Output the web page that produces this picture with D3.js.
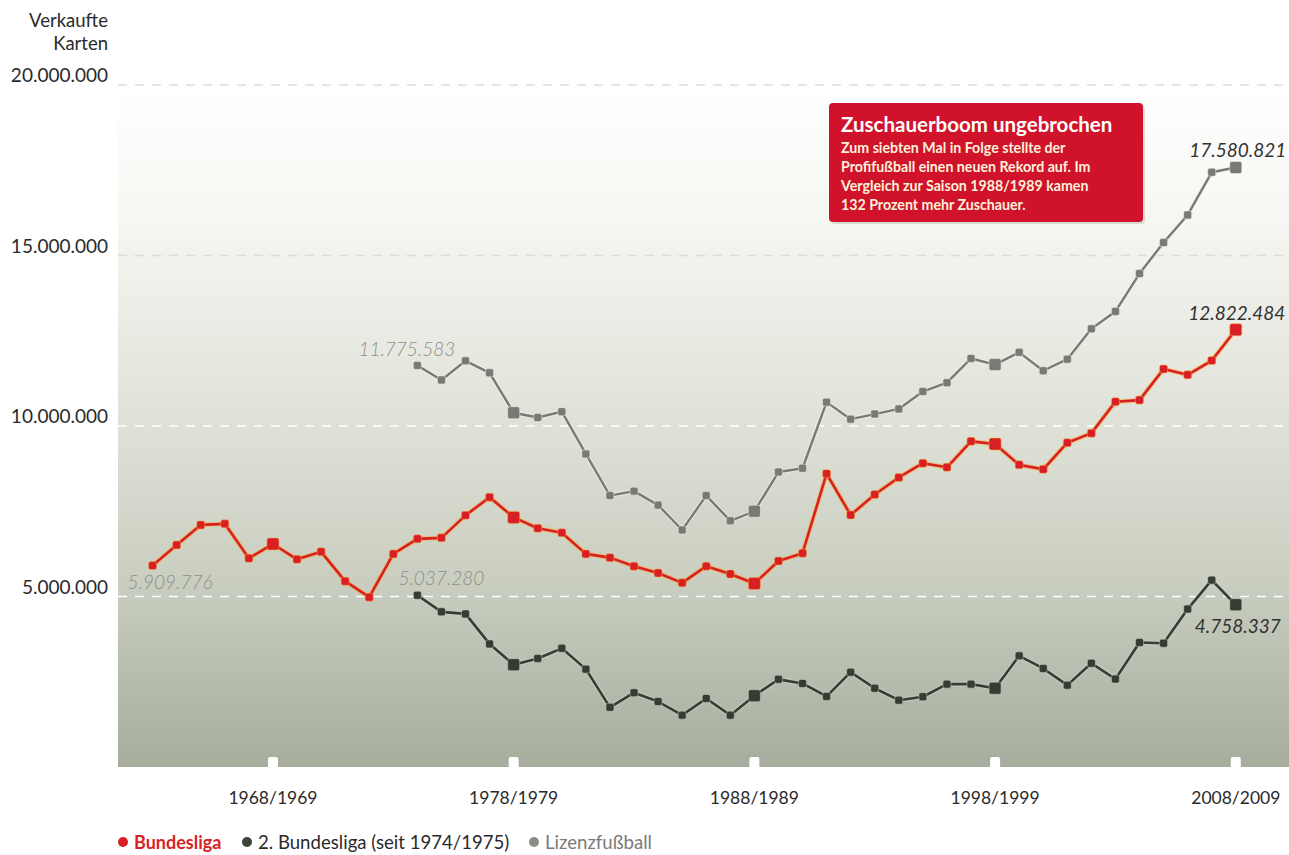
<!DOCTYPE html>
<html><head><meta charset="utf-8">
<script src="https://cdn.jsdelivr.net/npm/d3@7"></script>
<style>
html,body{margin:0;padding:0;background:#fff;}
svg{display:block;font-family:Lato,"Open Sans",sans-serif;}
</style></head>
<body>
<svg id="chart" width="1289" height="855"></svg>
<script>
// ---------- DATA ----------
const seasons = ["1963/1964","1964/1965","1965/1966","1966/1967","1967/1968","1968/1969","1969/1970","1970/1971","1971/1972","1972/1973",
"1973/1974","1974/1975","1975/1976","1976/1977","1977/1978","1978/1979","1979/1980","1980/1981","1981/1982","1982/1983",
"1983/1984","1984/1985","1985/1986","1986/1987","1987/1988","1988/1989","1989/1990","1990/1991","1991/1992","1992/1993",
"1993/1994","1994/1995","1995/1996","1996/1997","1997/1998","1998/1999","1999/2000","2000/2001","2001/2002","2002/2003",
"2003/2004","2004/2005","2005/2006","2006/2007","2007/2008","2008/2009"];

const bundesliga = [5909776,6510000,7100000,7130000,6120000,6540000,6090000,6310000,5450000,4980000,
6250000,6690000,6720000,7380000,7910000,7320000,7000000,6870000,6250000,6140000,
5890000,5690000,5400000,5890000,5660000,5380000,6040000,6270000,8600000,7390000,
7990000,8490000,8910000,8790000,9550000,9470000,8860000,8730000,9510000,9790000,
10710000,10760000,11670000,11500000,11920000,12822484];

const zweiteBundesliga = [null,null,null,null,null,null,null,null,null,null,
null,5037280,4550000,4490000,3610000,3000000,3180000,3480000,2870000,1750000,
2180000,1920000,1520000,2010000,1520000,2090000,2570000,2450000,2070000,2780000,
2310000,1960000,2060000,2430000,2430000,2310000,3260000,2890000,2400000,3040000,
2580000,3650000,3630000,4630000,5480000,4758337];

const lizenzfussball = [null,null,null,null,null,null,null,null,null,null,
null,11775583,11350000,11910000,11560000,10390000,10250000,10420000,9180000,7960000,
8090000,7680000,6950000,7960000,7220000,7500000,8650000,8760000,10700000,10200000,
10350000,10500000,11010000,11270000,11980000,11800000,12160000,11620000,11960000,12850000,
13360000,14470000,15380000,16190000,17440000,17580821];

const yTicks = [5000000,10000000,15000000,20000000];
const xTickLabels = ["1968/1969","1978/1979","1988/1989","1998/1999","2008/2009"];
const seriesNames = ["Bundesliga","2. Bundesliga (seit 1974/1975)","Lizenzfußball"];
const yAxisTitle = ["Verkaufte","Karten"];
const boxTitle = "Zuschauerboom ungebrochen";
const boxLines = ["Zum siebten Mal in Folge stellte der","Profifußball einen neuen Rekord auf. Im","Vergleich zur Saison 1988/1989 kamen","132 Prozent mehr Zuschauer."];

// ---------- SETUP ----------
const svg = d3.select("#chart");
const de = d3.formatLocale({decimal:",",thousands:".",grouping:[3],currency:["","€"]});
const fmt = de.format(",d");

const plot = {left:118, right:1289, top:85, bottom:767};
const x = d3.scalePoint().domain(seasons).range([152.6,1235.8]).padding(0);
const y = d3.scaleLinear().domain([0,20000000]).range([plot.bottom,plot.top]);

// background gradient
const defs = svg.append("defs");
const grad = defs.append("linearGradient").attr("id","bg").attr("x1",0).attr("y1",0).attr("x2",0).attr("y2",1);
[[0,"#ffffff"],[0.2,"#f6f6f2"],[0.45,"#e3e5dc"],[0.72,"#cacfc1"],[1,"#a6ad9d"]].forEach(s=>grad.append("stop").attr("offset",s[0]).attr("stop-color",s[1]));
svg.append("rect").attr("x",plot.left).attr("y",plot.top).attr("width",plot.right-plot.left).attr("height",plot.bottom-plot.top).attr("fill","url(#bg)");

// grid lines
svg.append("g").selectAll("line").data(yTicks).join("line")
  .attr("x1",plot.left).attr("x2",plot.right)
  .attr("y1",d=>y(d)).attr("y2",d=>y(d))
  .attr("stroke",d=>d>=15000000?"#dcdcd6":"#ffffff")
  .attr("stroke-width",1.5).attr("stroke-dasharray","9,8");

// y labels
svg.append("g").selectAll("text").data(yTicks).join("text")
  .attr("x",108).attr("y",d=>y(d)-3).attr("text-anchor","end")
  .attr("font-size",19).attr("fill","#2a2a2a").text(d=>fmt(d));
svg.append("g").selectAll("text").data(yAxisTitle).join("text")
  .attr("x",108).attr("y",(d,i)=>27+i*23).attr("text-anchor","end")
  .attr("font-size",18.5).attr("fill","#2a2a2a").text(d=>d);

// x ticks (white notches) and labels
const xg = svg.append("g");
xg.selectAll("rect").data(xTickLabels).join("rect")
  .attr("x",d=>x(d)-5).attr("y",plot.bottom-10).attr("width",10).attr("height",14).attr("rx",2)
  .attr("fill","#ffffff");
xg.selectAll("text").data(xTickLabels).join("text")
  .attr("x",d=>x(d)).attr("y",804).attr("text-anchor","middle")
  .attr("font-size",17.5).attr("fill","#2a2a2a").text(d=>d);
svg.append("rect").attr("x",plot.left).attr("y",plot.bottom).attr("width",plot.right-plot.left).attr("height",6).attr("fill","#fff");

// series
const series = [
  {name:seriesNames[2], values:lizenzfussball, color:"#787b74", halo:"#f4f4ef", w:2.4},
  {name:seriesNames[1], values:zweiteBundesliga, color:"#353d33", halo:"#d0d4c8", w:2.6},
  {name:seriesNames[0], values:bundesliga, color:"#d91f26", halo:"#f6b13c", w:2.6}
];
const line = d3.line().defined(d=>d.v!=null).x(d=>x(d.s)).y(d=>y(d.v));
series.forEach(s=>{
  const pts = seasons.map((se,i)=>({s:se,v:s.values[i]}));
  const g = svg.append("g");
  g.append("path").datum(pts).attr("d",line).attr("fill","none")
    .attr("stroke",s.halo).attr("stroke-width",s.w+2.2).attr("stroke-opacity",0.55).attr("stroke-linejoin","round");
  g.append("path").datum(pts).attr("d",line).attr("fill","none")
    .attr("stroke",s.color).attr("stroke-width",s.w).attr("stroke-linejoin","round");
  const valid = pts.filter(d=>d.v!=null);
  g.selectAll("rect").data(valid).join("rect")
    .attr("x",d=>x(d.s)-(xTickLabels.includes(d.s)?6:4))
    .attr("y",d=>y(d.v)-(xTickLabels.includes(d.s)?6:4))
    .attr("width",d=>xTickLabels.includes(d.s)?12:8)
    .attr("height",d=>xTickLabels.includes(d.s)?12:8)
    .attr("rx",2)
    .attr("fill",s.color)
    .attr("stroke",s.halo).attr("stroke-opacity",0.6).attr("stroke-width",0.8);
});

// value annotations
const first = seasons[0], start2 = seasons[11], last = seasons[45];
const ann = [
  {s:first, v:bundesliga[0], dx:-25, dy:24, anchor:"start", col:"#8d8f8a", w:300},
  {s:start2, v:zweiteBundesliga[11], dx:-19, dy:-10, anchor:"start", col:"#8d8f8a", w:300},
  {s:start2, v:lizenzfussball[11], dx:-59, dy:-9, anchor:"start", col:"#8d8f8a", w:300},
  {s:last, v:lizenzfussball[45], dx:2, dy:-10, anchor:"middle", col:"#333333", w:400},
  {s:last, v:bundesliga[45], dx:1, dy:-10, anchor:"middle", col:"#333333", w:400},
  {s:last, v:zweiteBundesliga[45], dx:2, dy:28, anchor:"middle", col:"#333333", w:400}
];
svg.append("g").selectAll("text").data(ann).join("text")
  .attr("x",d=>x(d.s)+d.dx).attr("y",d=>y(d.v)+d.dy)
  .attr("text-anchor",d=>d.anchor).attr("font-size",19).attr("font-style","italic")
  .attr("font-weight",d=>d.w).attr("fill",d=>d.col).text(d=>fmt(d.v));

// annotation box
const bx = svg.append("g");
bx.append("rect").attr("x",831).attr("y",105).attr("width",314).attr("height",119).attr("rx",4).attr("fill","#000").attr("opacity",0.12);
bx.append("rect").attr("x",829).attr("y",103).attr("width",314).attr("height",119).attr("rx",4).attr("fill","#d0132a");
bx.append("text").attr("x",841).attr("y",132).attr("font-size",20.5).attr("font-weight",700).attr("fill","#ffffff").text(boxTitle);
bx.selectAll("text.l").data(boxLines).join("text").attr("class","l")
  .attr("x",841).attr("y",(d,i)=>153+i*19).attr("font-size",14.2).attr("font-weight",700)
  .attr("fill","#fdf1dc").text(d=>d);

// legend
const legendItems = [
  {name:seriesNames[0], color:"#d91f26", text:"#d91f26", w:700, x:123},
  {name:seriesNames[1], color:"#3a4538", text:"#2a2a2a", w:400, x:247},
  {name:seriesNames[2], color:"#8a8c86", text:"#7a7a78", w:400, x:534}
];
const lg = svg.append("g");
lg.selectAll("circle").data(legendItems).join("circle")
  .attr("cx",d=>d.x).attr("cy",842).attr("r",5).attr("fill",d=>d.color);
lg.selectAll("text").data(legendItems).join("text")
  .attr("x",d=>d.x+11).attr("y",849).attr("font-size",d=>d.w===700?18:18.6).attr("font-weight",d=>d.w)
  .attr("fill",d=>d.text).text(d=>d.name);
</script>
</body></html>
